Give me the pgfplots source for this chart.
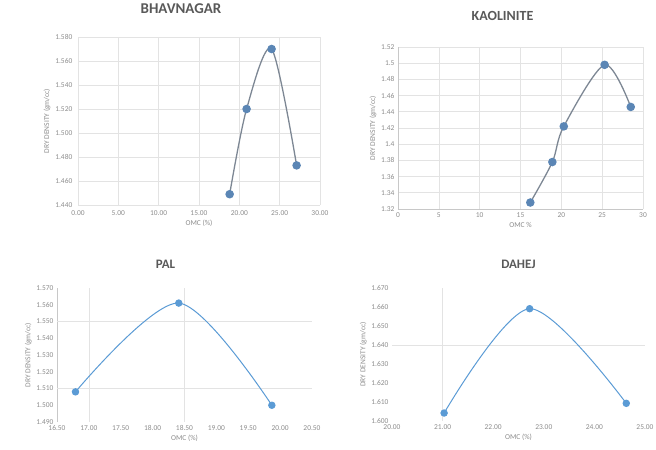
\documentclass[border=0pt]{standalone}
\usepackage{fontspec}
\setmainfont{Carlito}
\usepackage{pgfplots}
\pgfplotsset{compat=1.18}
\definecolor{gridc}{HTML}{E3E3E3}
\definecolor{axc}{HTML}{C8C8C8}
\definecolor{tickc}{HTML}{8C8C8C}
\definecolor{titlec}{HTML}{595959}
\definecolor{linetop}{HTML}{7D8794}
\definecolor{marktop}{HTML}{5B86B5}
\definecolor{bluel}{HTML}{5B9BD5}
\pgfplotsset{chartbase/.style={
  scale only axis, anchor=south west, clip=false,
  tick style={draw=none},
  ticklabel style={font=\fontsize{7.5}{8}\selectfont, text=tickc},
  /pgf/number format/assume math mode=true,
  label style={font=\fontsize{7.5}{8}\selectfont, text=tickc},
  major grid style={gridc, line width=0.6pt},
  axis line style={axc, line width=0.6pt},
  title style={at={(0.5,1)}, anchor=center, text=titlec},
}}
\begin{document}
\begin{tikzpicture}
\useasboundingbox (0,0) rectangle (656bp,450bp);
% BHAVNAGAR
\begin{axis}[chartbase,
  at={(78bp,245bp)}, width=242bp, height=168bp,
  xmin=0, xmax=30, ymin=1.44, ymax=1.58,
  xtick={0,5,...,30}, ytick={1.44,1.46,...,1.585},
  xticklabel style={/pgf/number format/.cd, fixed, fixed zerofill, precision=2},
  yticklabel style={/pgf/number format/.cd, fixed, fixed zerofill, precision=3},
  grid=major, axis lines=left, axis line style={draw=none},
  title={BHAVNAGAR}, title style={font=\fontsize{15}{16}\selectfont\bfseries, yshift=22bp, xshift=-18bp},
  xlabel={OMC (\%)}, ylabel={DRY DENSITY (gm/cc)},
  xlabel style={yshift=2bp}, ylabel style={yshift=-2bp}]
\addplot[linetop, line width=1.3pt, smooth, mark=*, mark size=3.6bp,
  mark options={fill=marktop, draw=marktop}] coordinates {
  (18.8,1.449) (20.9,1.520) (24.0,1.570) (27.1,1.473)};
\end{axis}
% KAOLINITE
\begin{axis}[chartbase,
  at={(398bp,241bp)}, width=245bp, height=162bp,
  xmin=0, xmax=30, ymin=1.32, ymax=1.52,
  xtick={0,5,...,30}, ytick={1.32,1.34,...,1.525},
  grid=major, axis x line*=bottom, axis y line*=left,
  title={KAOLINITE}, title style={font=\fontsize{14}{15}\selectfont\bfseries, yshift=25bp, xshift=-18bp},
  xlabel={OMC \%}, ylabel={DRY DENSITY (gm/cc)},
  xlabel style={yshift=2bp}, ylabel style={yshift=-2bp}]
\addplot[linetop, line width=1.3pt, smooth, mark=*, mark size=3.6bp,
  mark options={fill=marktop, draw=marktop}] coordinates {
  (16.2,1.328) (18.9,1.378) (20.3,1.422) (25.3,1.498) (28.5,1.446)};
\end{axis}
% PAL
\begin{axis}[chartbase,
  at={(57bp,28bp)}, width=255bp, height=134bp,
  xmin=16.5, xmax=20.5, ymin=1.49, ymax=1.57,
  xtick={16.5,17,...,20.5}, ytick={1.49,1.50,...,1.575},
  xticklabel style={/pgf/number format/.cd, fixed, fixed zerofill, precision=2},
  yticklabel style={/pgf/number format/.cd, fixed, fixed zerofill, precision=3},
  extra x ticks={17,18.5}, extra x tick labels={}, extra x tick style={grid=major},
  extra y ticks={1.51,1.55}, extra y tick labels={}, extra y tick style={grid=major},
  axis x line*=bottom, axis y line*=left, x axis line style={draw=none},
  title={PAL}, title style={font=\fontsize{13}{14}\selectfont\bfseries, yshift=18bp, xshift=-19bp},
  xlabel={OMC (\%)}, ylabel={DRY DENSITY (gm/cc)},
  xlabel style={yshift=2bp}, ylabel style={yshift=-2bp}]
\addplot[bluel, line width=1pt, smooth, mark=*, mark size=3.2bp,
  mark options={fill=bluel, draw=bluel}] coordinates {
  (16.79,1.508) (18.41,1.561) (19.87,1.500)};
\end{axis}
% DAHEJ
\begin{axis}[chartbase,
  at={(392bp,29bp)}, width=253bp, height=133bp,
  xmin=20, xmax=25, ymin=1.60, ymax=1.67,
  xtick={20,21,...,25}, ytick={1.60,1.61,...,1.675},
  xticklabel style={/pgf/number format/.cd, fixed, fixed zerofill, precision=2},
  yticklabel style={/pgf/number format/.cd, fixed, fixed zerofill, precision=3},
  extra x ticks={21}, extra x tick labels={}, extra x tick style={grid=major},
  extra y ticks={1.64}, extra y tick labels={}, extra y tick style={grid=major},
  axis x line*=bottom, axis y line*=left, axis line style={draw=none},
  title={DAHEJ}, title style={font=\fontsize{13}{14}\selectfont\bfseries, yshift=18bp},
  xlabel={OMC (\%)}, ylabel={DRY DENSITY (gm/cc)},
  xlabel style={yshift=2bp}, ylabel style={yshift=-2bp}]
\addplot[bluel, line width=1pt, smooth, mark=*, mark size=3.2bp,
  mark options={fill=bluel, draw=bluel}] coordinates {
  (21.03,1.6042) (22.72,1.6591) (24.63,1.6093)};
\end{axis}
\end{tikzpicture}
\end{document}
